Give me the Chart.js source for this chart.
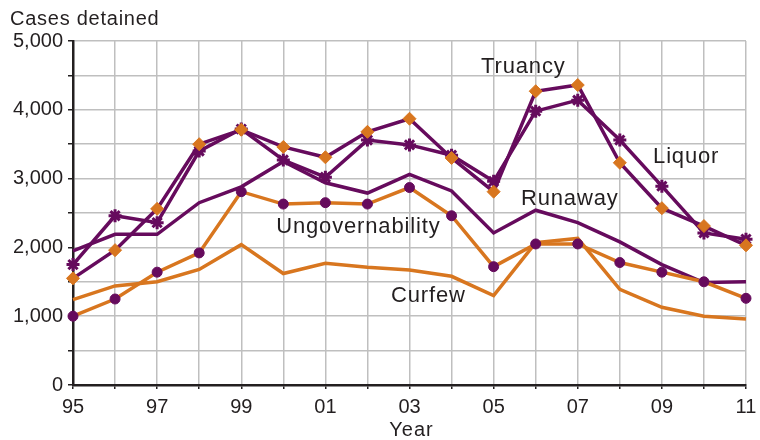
<!DOCTYPE html>
<html>
<head>
<meta charset="utf-8">
<script src="https://cdn.jsdelivr.net/npm/chart.js@4.4.1/dist/chart.umd.min.js"></script>
<style>
  html, body { margin: 0; padding: 0; background: #ffffff; }
  #wrap { width: 760px; height: 440px; position: relative; }
</style>
</head>
<body>
<div id="wrap"><canvas id="c" width="760" height="440"></canvas></div>
<script>
// Juvenile cases detained by offense, 1995–2011
const years = ['1995','1996','1997','1998','1999','2000','2001','2002','2003',
               '2004','2005','2006','2007','2008','2009','2010','2011'];

const truancy         = [1550,1960,2560,3500,3710,3460,3310,3680,3870,3300,2810,4270,4360,3230,2570,2310,2030];
const liquor          = [1750,2460,2360,3400,3720,3270,3020,3560,3490,3340,2960,3980,4140,3560,2890,2210,2120];
const runaway         = [1950,2190,2190,2650,2880,3250,2940,2790,3060,2820,2210,2540,2360,2080,1750,1490,1500];
const ungovernability = [1000,1250,1640,1920,2810,2630,2650,2630,2870,2460,1720,2050,2050,1780,1640,1500,1260];
const curfew          = [1240,1440,1500,1680,2040,1620,1770,1710,1670,1580,1300,2070,2130,1390,1130,1000,960];

const yTicksMax = 5000;

const PURPLE = '#660b5d';
const ORANGE = '#d8761f';
const INK = '#231f20';
const GRID = '#bfbfbf';
const FONT = "'Liberation Sans', Arial, Helvetica, sans-serif";

// Series name labels, placed in data units (x = year index, y = cases)
const seriesLabels = [
  { text: 'Truancy',         x: 9.70,  y: 4535 },
  { text: 'Liquor',          x: 13.79, y: 3231 },
  { text: 'Runaway',         x: 10.65, y: 2616 },
  { text: 'Ungovernability', x: 4.83,  y: 2214 },
  { text: 'Curfew',          x: 7.56,  y: 1206 }
];

const textPlugin = {
  id: 'chartText',
  afterDatasetsDraw(chart) {
    const { ctx, chartArea, scales } = chart;
    ctx.save();
    ctx.fillStyle = INK;
    ctx.textBaseline = 'alphabetic';

    ctx.font = '22px ' + FONT;
    ctx.letterSpacing = '0.85px';
    ctx.textAlign = 'left';
    seriesLabels.forEach(l => {
      ctx.fillText(l.text, scales.x.getPixelForValue(l.x), scales.y.getPixelForValue(l.y));
    });

    ctx.font = '20px ' + FONT;
    ctx.letterSpacing = '0.75px';
    ctx.textAlign = 'left';
    ctx.fillText('Cases detained', 10, 25);

    ctx.letterSpacing = '1px';
    ctx.textAlign = 'center';
    ctx.fillText('Year', (chartArea.left + chartArea.right) / 2 + 2, 436);
    ctx.restore();
  }
};

const line = (data, color, extra) => Object.assign({
  data,
  borderColor: color,
  borderWidth: 3.5,
  pointRadius: 0,
  pointHoverRadius: 0,
  tension: 0,
  fill: false
}, extra);

new Chart(document.getElementById('c'), {
  type: 'line',
  data: {
    labels: years,
    datasets: [
      line(truancy, PURPLE, {
        label: 'Truancy', pointStyle: 'rectRot', pointRadius: 6.5,
        pointBackgroundColor: ORANGE, pointBorderColor: ORANGE, pointBorderWidth: 1
      }),
      line(liquor, PURPLE, {
        label: 'Liquor', pointStyle: 'star', pointRadius: 6.5,
        pointBackgroundColor: PURPLE, pointBorderColor: PURPLE, pointBorderWidth: 3
      }),
      line(ungovernability, ORANGE, {
        label: 'Ungovernability', pointStyle: 'circle', pointRadius: 5,
        pointBackgroundColor: PURPLE, pointBorderColor: PURPLE, pointBorderWidth: 1
      }),
      line(runaway, PURPLE, { label: 'Runaway' }),
      line(curfew, ORANGE, { label: 'Curfew' })
    ]
  },
  options: {
    responsive: false,
    animation: false,
    events: [],
    layout: { padding: { top: 41, right: 14, bottom: 0, left: 0 } },
    plugins: {
      legend: { display: false },
      title: { display: false },
      tooltip: { enabled: false }
    },
    scales: {
      x: {
        type: 'category',
        offset: false,
        border: { display: true, color: INK, width: 2.5 },
        grid: { color: GRID, lineWidth: 1.5, tickColor: INK, tickLength: 4, drawTicks: true },
        ticks: {
          autoSkip: false,
          maxRotation: 0,
          padding: 6,
          color: INK,
          font: { family: FONT, size: 20 },
          callback: function (value, index) {
            return index % 2 === 0 ? this.getLabelForValue(value).slice(2) : '';
          }
        },
        afterFit(scale) {
          scale.height = 55;
          scale.paddingRight = 0;
          scale.paddingLeft = 0;
        }
      },
      y: {
        min: 0,
        max: yTicksMax,
        border: { display: true, color: INK, width: 2.5 },
        grid: { color: GRID, lineWidth: 1.5, tickColor: INK, tickLength: 5 },
        ticks: {
          stepSize: 500,
          padding: 5,
          color: INK,
          font: { family: FONT, size: 20 },
          callback: v => (v % 1000 === 0 ? v.toLocaleString('en-US') : '')
        },
        afterFit(scale) { scale.width = 73; }
      }
    }
  },
  plugins: [textPlugin]
});
</script>
</body>
</html>
